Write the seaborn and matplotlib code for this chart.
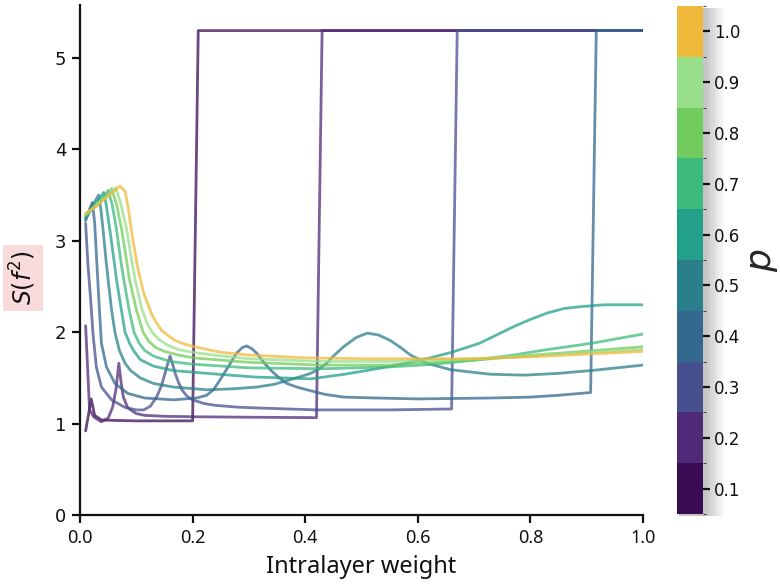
import numpy as np
import pandas as pd
import matplotlib
matplotlib.use("Agg")
import matplotlib.pyplot as plt
import matplotlib.colors as mcolors
import matplotlib.patches as mpatches
import seaborn as sns

# ---------------- data ----------------
p_values = [0.1, 0.2, 0.3, 0.4, 0.5, 0.6, 0.7, 0.8, 0.9, 1.0]
p_colors = ["#3a0a52", "#4e2a78", "#46508f", "#33688f", "#2a7f8b",
            "#23a08a", "#3dba7c", "#72cc5d", "#98df8a", "#efb93b"]

x1 = [0.01, 0.02, 0.026, 0.038, 0.06, 0.1, 0.15, 0.2, 0.21, 1.0]
y1 = [0.92, 1.27, 1.09, 1.04, 1.035, 1.03, 1.03, 1.03, 5.3, 5.3]

x2 = [0.01, 0.017, 0.025, 0.038, 0.05, 0.058, 0.064, 0.069, 0.073, 0.077,
      0.085, 0.1, 0.115, 0.15, 0.2, 0.3, 0.42, 0.43, 1.0]
y2 = [2.07, 1.15, 1.07, 1.02, 1.06, 1.18, 1.38, 1.66, 1.45, 1.29,
      1.17, 1.11, 1.09, 1.08, 1.075, 1.07, 1.065, 5.3, 5.3]

x3 = [0.01, 0.014, 0.019, 0.023, 0.029, 0.038, 0.056, 0.079, 0.1, 0.113,
      0.125, 0.136, 0.145, 0.151, 0.156, 0.16, 0.165, 0.169, 0.175, 0.181,
      0.19, 0.2, 0.22, 0.24, 0.28, 0.32, 0.42, 0.55, 0.66, 0.67, 1.0]
y3 = [3.19, 2.75, 2.35, 1.99, 1.62, 1.40, 1.26, 1.18, 1.15, 1.15,
      1.19, 1.29, 1.42, 1.55, 1.66, 1.74, 1.64, 1.55, 1.45, 1.37,
      1.30, 1.26, 1.22, 1.20, 1.18, 1.17, 1.15, 1.15, 1.16, 5.3, 5.3]

x4 = [0.01, 0.016, 0.022, 0.026, 0.03, 0.034, 0.038, 0.047, 0.062, 0.085,
      0.115, 0.166, 0.207, 0.225, 0.237, 0.25, 0.26, 0.27, 0.278, 0.288,
      0.296, 0.305, 0.314, 0.325, 0.338, 0.352, 0.367, 0.385, 0.403, 0.435,
      0.468, 0.527, 0.6, 0.729, 0.8, 0.85, 0.907, 0.917, 1.0]
y4 = [3.22, 3.33, 3.42, 3.20, 2.75, 2.30, 1.88, 1.62, 1.44, 1.33,
      1.28, 1.26, 1.28, 1.31, 1.37, 1.49, 1.59, 1.69, 1.77, 1.83,
      1.85, 1.82, 1.77, 1.68, 1.59, 1.51, 1.44, 1.40, 1.37, 1.32,
      1.29, 1.28, 1.27, 1.28, 1.29, 1.31, 1.34, 5.3, 5.3]

x5 = [0.01, 0.02, 0.033, 0.037, 0.041, 0.046, 0.05, 0.056, 0.062, 0.07,
      0.08, 0.09, 0.107, 0.13, 0.166, 0.225, 0.27, 0.314, 0.345, 0.373,
      0.395, 0.41, 0.425, 0.438, 0.452, 0.468, 0.49, 0.51, 0.53, 0.551,
      0.57, 0.587, 0.616, 0.658, 0.7, 0.73, 0.79, 0.85, 0.907, 1.0]
y5 = [3.24, 3.36, 3.50, 3.35, 3.12, 2.80, 2.57, 2.25, 2.0, 1.80,
      1.66, 1.58, 1.50, 1.44, 1.40, 1.37, 1.38, 1.40, 1.43, 1.48,
      1.52, 1.55, 1.60, 1.66, 1.75, 1.84, 1.94, 1.99, 1.97, 1.91,
      1.83, 1.75, 1.66, 1.59, 1.56, 1.54, 1.53, 1.55, 1.58, 1.64]

x6 = [0.01, 0.02, 0.03, 0.042, 0.047, 0.053, 0.059, 0.065, 0.072, 0.08,
      0.088, 0.095, 0.107, 0.13, 0.166, 0.225, 0.31, 0.41, 0.47, 0.527,
      0.57, 0.616, 0.66, 0.71, 0.74, 0.77, 0.8, 0.83, 0.86, 0.89, 0.93, 1.0]
y6 = [3.26, 3.34, 3.42, 3.53, 3.38, 3.12, 2.85, 2.57, 2.30, 2.0,
      1.88, 1.80, 1.70, 1.63, 1.58, 1.55, 1.51, 1.49, 1.54, 1.60,
      1.65, 1.71, 1.78, 1.88, 1.97, 2.06, 2.14, 2.21, 2.26, 2.28, 2.30, 2.30]

x7 = [0.01, 0.02, 0.03, 0.04, 0.05, 0.057, 0.065, 0.072, 0.078, 0.087,
      0.096, 0.105, 0.115, 0.13, 0.16, 0.2, 0.3, 0.43, 0.55, 0.63,
      0.71, 0.77, 0.83, 0.91, 1.0]
y7 = [3.27, 3.34, 3.40, 3.46, 3.55, 3.40, 3.12, 2.80, 2.57, 2.25,
      2.0, 1.88, 1.80, 1.74, 1.68, 1.65, 1.61, 1.60, 1.62, 1.65,
      1.70, 1.75, 1.81, 1.88, 1.98]

x8 = [0.01, 0.02, 0.03, 0.04, 0.05, 0.056, 0.065, 0.074, 0.081, 0.088,
      0.1, 0.112, 0.122, 0.135, 0.15, 0.175, 0.2, 0.3, 0.43, 0.55,
      0.71, 0.83, 1.0]
y8 = [3.28, 3.34, 3.40, 3.46, 3.51, 3.57, 3.40, 3.12, 2.85, 2.57,
      2.25, 2.0, 1.90, 1.83, 1.79, 1.75, 1.72, 1.67, 1.64, 1.64,
      1.70, 1.76, 1.84]

x9 = [0.01, 0.02, 0.03, 0.04, 0.05, 0.063, 0.072, 0.083, 0.09, 0.098,
      0.11, 0.119, 0.128, 0.14, 0.155, 0.175, 0.2, 0.25, 0.3, 0.43,
      0.55, 0.71, 0.83, 1.0]
y9 = [3.29, 3.34, 3.40, 3.45, 3.50, 3.58, 3.42, 3.12, 2.85, 2.57,
      2.25, 2.10, 2.0, 1.92, 1.86, 1.81, 1.78, 1.74, 1.71, 1.68,
      1.68, 1.71, 1.76, 1.81]

x10 = [0.01, 0.02, 0.03, 0.04, 0.05, 0.06, 0.071, 0.08, 0.086, 0.092,
       0.102, 0.113, 0.127, 0.135, 0.145, 0.155, 0.169, 0.185, 0.204, 0.25,
       0.3, 0.4, 0.5, 0.6, 0.7, 0.8, 0.9, 1.0]
y10 = [3.30, 3.34, 3.38, 3.44, 3.49, 3.54, 3.60, 3.54, 3.35, 3.08,
       2.72, 2.43, 2.20, 2.11, 2.02, 1.97, 1.91, 1.87, 1.84, 1.78,
       1.75, 1.72, 1.71, 1.71, 1.71, 1.73, 1.76, 1.79]

series_x = [x1, x2, x3, x4, x5, x6, x7, x8, x9, x10]
series_y = [y1, y2, y3, y4, y5, y6, y7, y8, y9, y10]

x_ticks = [0.0, 0.2, 0.4, 0.6, 0.8, 1.0]
y_ticks = [0, 1, 2, 3, 4, 5]

# ---------------- build long table ----------------
rows = []
for p, xs, ys in zip(p_values, series_x, series_y):
    for i, (xv, yv) in enumerate(zip(xs, ys)):
        rows.append({"x": xv, "y": yv, "p": p, "order": i})
df = pd.DataFrame(rows)

sns.set_style("ticks")
plt.rcParams["font.family"] = ["DejaVu Sans"]

fig = plt.figure(figsize=(7.8, 5.87), dpi=100)
ax = fig.add_axes([80 / 780, 1 - 515 / 587, (643 - 80) / 780, (515 - 5) / 587])

palette = dict(zip(p_values, p_colors))
sns.lineplot(data=df, x="x", y="y", hue="p", palette=palette, units="p",
             estimator=None, sort=False, legend=False, linewidth=2.0,
             alpha=0.75, ax=ax)

ax.set_xlim(0, 1.0)
ax.set_ylim(0, 5.58)
ax.set_xticks(x_ticks)
ax.set_xticklabels([f"{t:.1f}" for t in x_ticks], fontfamily="Noto Sans",
                   fontsize=13)
ax.set_yticks(y_ticks)
ax.set_yticklabels([str(t) for t in y_ticks], fontsize=13)
sns.despine(ax=ax)
for s in ["left", "bottom"]:
    ax.spines[s].set_linewidth(1.6)
    ax.spines[s].set_color("#111111")
ax.tick_params(axis="both", length=6, width=1.6, color="#111111",
               labelcolor="#111111", pad=4)

ax.set_xlabel("Intralayer weight", fontfamily="Noto Sans", fontsize=17,
              color="#111111", labelpad=6)
ax.set_ylabel(r"$S(f^2)$", fontsize=17, color="#111111",
              bbox=dict(boxstyle="square,pad=0.22", facecolor="#f8dcdc",
                        edgecolor="none"))
ax.yaxis.set_label_coords((23 - 80) / 563, (515 - 278) / 510)
ax.yaxis.label.set_va("center")
ax.yaxis.label.set_ha("center")

# ---------------- discrete colorbar ----------------
cb_left, cb_w = 677 / 780, 26 / 780
cb_bottom, cb_h = 1 - 514 / 587, (514 - 6) / 587

# soft shadow to the right of the bar (drawn beneath the bar)
for k in range(12):
    off = (k + 1) * 1.6 / 780
    fig.patches.append(mpatches.Rectangle(
        (cb_left + 2 / 780, cb_bottom - 2 / 587), cb_w + off, cb_h,
        transform=fig.transFigure, facecolor="#000000",
        alpha=0.018, edgecolor="none", zorder=-5))

cax = fig.add_axes([cb_left, cb_bottom, cb_w, cb_h])
cax.set_zorder(2)
bounds = np.arange(0.05, 1.06, 0.1)
cmap = mcolors.ListedColormap(p_colors)
norm = mcolors.BoundaryNorm(bounds, cmap.N)
sm = plt.cm.ScalarMappable(cmap=cmap, norm=norm)
cbar = fig.colorbar(sm, cax=cax, ticks=p_values)
cbar.outline.set_visible(False)
cbar.ax.set_yticklabels([f"{v:.1f}" for v in p_values])
cbar.ax.tick_params(length=5, width=1.6, labelsize=12, color="#111111",
                    labelcolor="#111111", pad=3)
cbar.set_label(r"$p$", fontsize=26, rotation=90, labelpad=4)

fig.savefig("out.png", dpi=100)
